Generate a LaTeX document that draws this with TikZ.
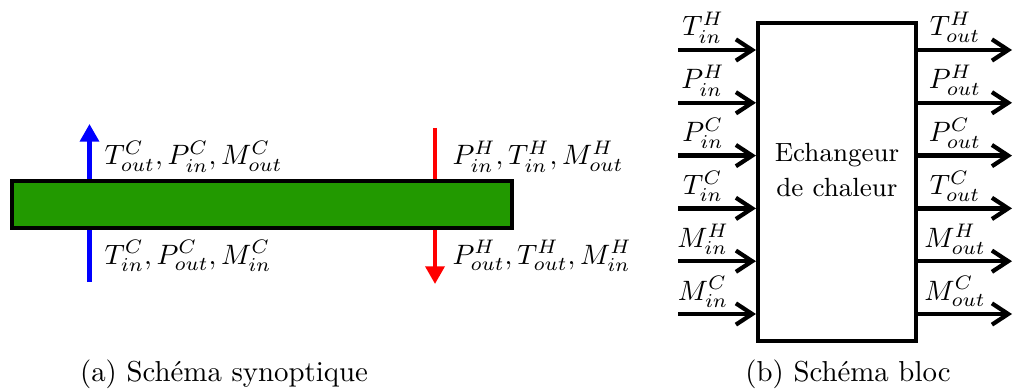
\documentclass[tikz,border=0pt]{standalone}
\usetikzlibrary{arrows.meta}
\definecolor{hxgreen}{RGB}{34,153,0}
\definecolor{hxblue}{RGB}{0,0,255}
\definecolor{hxred}{RGB}{255,0,0}
\begin{document}
\begin{tikzpicture}[x=0.357pt,y=-0.357pt,
  flow/.style={line width=1.45pt,-{Triangle[length=6.3pt,width=6.7pt]}},
  io/.style={line width=1.5pt,-{Straight Barb[length=5.8pt,width=7.6pt]}},
  lab/.style={inner sep=0pt,anchor=base},
  labw/.style={inner sep=0pt,anchor=base west},
  captext/.style={inner sep=0pt,anchor=base,font=\fontsize{10.3}{12}\selectfont}]
\useasboundingbox (0,0) rectangle (1013,389);
% ---- (a) synoptic
\coordinate (bS) at (89.5,282);
\coordinate (bE) at (89.5,124);
\coordinate (rS) at (435,128);
\coordinate (rE) at (435,284);
\draw[flow,hxblue] (bS) -- (bE);
\draw[flow,hxred] (rS) -- (rE);
\node[draw=black,line width=1.15pt,fill=hxgreen,minimum width=500*0.357pt,minimum height=47*0.357pt,inner sep=0pt] (hx) at (262,204.5) {};
\node[labw] (tl) at (104,165) {$T^C_{out}, P^C_{in}, M^C_{out}$};
\node[labw] (bl) at (104,264) {$T^C_{in}, P^C_{out}, M^C_{in}$};
\node[labw] (tr) at (452,165) {$P^H_{in}, T^H_{in}, M^H_{out}$};
\node[labw] (br) at (452,264) {$P^H_{out}, T^H_{out}, M^H_{in}$};
\node[captext] (capa) at (224,381) {(a) Schéma synoptique};
% ---- (b) block
\node[draw=black,line width=1.45pt,minimum width=158*0.357pt,minimum height=318*0.357pt,inner sep=0pt] (box) at (837,182) {};
\node[inner sep=0pt,align=center,font=\fontsize{9.4}{12.5}\selectfont] (txt) at (837,170) {Echangeur\\de chaleur};
\foreach \k/\li/\lo in {0/{T^H_{in}}/{T^H_{out}},1/{P^H_{in}}/{P^H_{out}},2/{P^C_{in}}/{P^C_{out}},3/{T^C_{in}}/{T^C_{out}},4/{M^H_{in}}/{M^H_{out}},5/{M^C_{in}}/{M^C_{out}}}{
  \coordinate (l\k) at (678,50+52.8*\k);
  \coordinate (r\k) at (1012,50+52.8*\k);
  \draw[io] (l\k) -- (l\k -| box.west);
  \draw[io] (r\k -| box.east) -- (r\k);
  \node[lab] (li\k) at (703,36+52.8*\k) {$\li$};
  \node[lab] (lo\k) at (955,36+52.8*\k) {$\lo$};
}
\node[captext] (capb) at (848,381) {(b) Schéma bloc};
\end{tikzpicture}
\end{document}
